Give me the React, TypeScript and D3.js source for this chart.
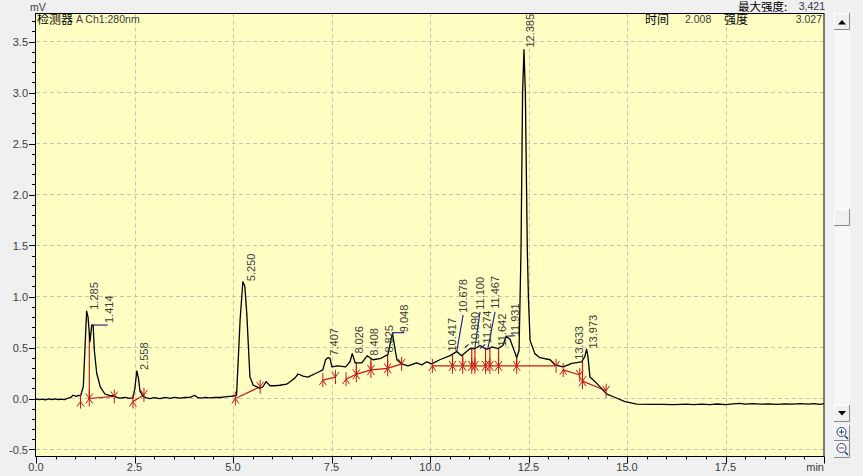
import React from "react";
import * as d3 from "d3";

const xTickValues = [0, 2.5, 5, 7.5, 10, 12.5, 15, 17.5];
const yTickValues = [-0.5, 0, 0.5, 1, 1.5, 2, 2.5, 3, 3.5];

const traceT = [0,.08,.16,.24,.32,.4,.48,.56,.64,.72,.8,.88,.94,1.02,1.08,1.13,1.2,1.244,1.285,1.32,1.37,1.414,1.45,1.48,1.54,1.63,1.75,1.87,1.98,2.05,2.13,2.26,2.36,2.46,2.51,2.558,2.6,2.64,2.72,2.8,2.89,3.0,3.15,3.28,3.4,3.52,3.65,3.78,3.91,4.03,4.11,4.2,4.29,4.42,4.54,4.67,4.8,4.9,4.97,5.09,5.18,5.25,5.3,5.35,5.43,5.515,5.685,5.76,5.84,5.94,6.05,6.19,6.36,6.45,6.57,6.65,6.78,6.9,7.12,7.28,7.35,7.407,7.46,7.51,7.66,7.86,7.97,8.026,8.1,8.27,8.408,8.55,8.73,8.93,9.048,9.11,9.16,9.28,9.44,9.66,9.79,9.92,10.04,10.25,10.51,10.678,10.8,10.93,11.02,11.14,11.27,11.4,11.47,11.57,11.73,11.85,11.931,12.03,12.16,12.2,12.26,12.31,12.35,12.385,12.42,12.47,12.5,12.54,12.66,12.79,13.05,13.17,13.38,13.6,13.85,13.93,13.973,14.01,14.06,14.19,14.48,14.7,14.95,15.25,15.58,15.9,16.2,16.5,16.7,16.9,17.1,17.3,17.5,17.7,17.85,18.0,18.2,18.4,18.6,18.8,19.0,19.2,19.4,19.6,19.75,19.9,20];
const traceV = [-.005,-.012,-.006,-.014,-.004,-.01,-.003,-.012,-.006,-.01,.002,.01,.032,.02,.03,.025,.115,.5,.857,.8,.557,.72,.72,.475,.25,.115,.044,.03,.025,.012,.004,.01,.002,.006,.1,.27,.2,.07,.02,.006,-.002,.008,-.002,.01,.002,.012,.004,.01,.012,.03,.008,.004,.012,.006,.012,.01,.016,.02,.022,.03,.77,1.145,1.1,.83,.21,.13,.1,.115,.165,.125,.125,.13,.14,.165,.2,.24,.22,.21,.25,.28,.38,.4,.395,.31,.32,.31,.36,.44,.35,.35,.42,.38,.39,.43,.64,.49,.38,.34,.32,.35,.33,.36,.34,.38,.42,.46,.42,.46,.49,.49,.52,.49,.485,.505,.49,.52,.61,.58,.445,.4,.47,1.455,3.0,3.42,3.0,1.455,.965,.57,.44,.4,.38,.33,.31,.345,.36,.41,.485,.41,.21,.165,.045,.01,-.03,-.055,-.057,-.058,-.06,-.055,-.06,-.056,-.06,-.054,-.06,-.052,-.048,-.055,-.05,-.056,-.052,-.058,-.052,-.056,-.05,-.056,-.05,-.058,-.05];

const peakNames = ["1.285","1.414","2.558","5.250","7.407","8.026","8.408","8.825","9.048","10.417","10.678","10.890","11.100","11.274","11.467","11.642","11.931","12.385","13.633","13.973"];
const peakLabelT = [1.47,1.85,2.74,5.45,7.56,8.2,8.59,8.96,9.35,10.56,10.84,11.14,11.27,11.46,11.65,11.82,12.16,12.54,13.78,14.14];
const peakLabelV = [.87,.74,.28,1.15,.42,.44,.42,.45,.65,.46,.84,.52,.87,.54,.88,.51,.61,3.44,.38,.49];

const leaderT0 = [1.414,9.048,10.678,10.89,11.14,11.274,11.467,11.931];
const leaderV0 = [.72,.645,.46,.5,.5,.49,.485,.61];
const leaderT1 = [1.82,9.35,10.84,10.98,11.27,11.4,11.65,12.16];
const leaderV1 = [.72,.645,.82,.53,.85,.53,.85,.615];

const eventT = [1.13,1.353,1.987,2.46,2.74,5.06,5.69,7.28,7.6,7.87,8.13,8.5,8.925,9.28,10.06,10.57,10.83,11.06,11.14,11.41,11.52,11.74,12.2,13.2,13.38,13.8,13.87,14.47];
const eventV = [-.03,0,.02,-.03,.035,0,.115,.18,.21,.19,.237,.28,.296,.34,.32,.32,.32,.32,.32,.32,.32,.32,.32,.32,.28,.23,.17,.076];
const eventKind = ["u","x","d","u","d","u","d","u","d","u","x","x","x","d","u","x","x","x","x","x","x","x","x","d","u","d","x","d"];
const baselineFirst = [1,3,5,7,9,14,24,26];
const baselineLast = [2,4,6,8,13,23,25,27];

const W = 863, H = 476;
const x = d3.scaleLinear().domain([0, 20]).range([36, 824]);
const y = d3.scaleLinear().domain([0, 3.5]).range([398.5, 41.5]);
const yTop = y.invert(13.5), yBot = y.invert(456.5);
const traceAt = d3.scaleLinear<number>().domain(traceT).range(traceV);
const tracePath = d3.line<number>().x((_, i) => x(traceT[i])).y(d => y(d)).curve(d3.curveLinear)(traceV) as string;

const UI = "'Liberation Sans', Arial, sans-serif";
const CJK = "'Noto Sans CJK SC', sans-serif";
const RED = "#cc1515";
const TXT = "#3c3c3c";
const GRID = "#c6c6b0";

const markerPath: Record<string, string> = {
  u: "M0,-7V7M-3.5,5L0,0L3.5,5",
  d: "M0,-7V7M-3.5,-5L0,0L3.5,-5",
  x: "M0,-8V8M-3.5,-5L0,0L3.5,-5M-3.5,5L0,0L3.5,5",
};

function Button({ bx, by, w, h }: { bx: number; by: number; w: number; h: number }) {
  return (
    <g>
      <rect x={bx} y={by} width={w} height={h} fill="#f0f0f0" />
      <path d={`M${bx + w - 0.5},${by}V${by + h - 0.5}H${bx}`} fill="none" stroke="#8a8a8a" />
      <path d={`M${bx + 0.5},${by + h - 1}V${by + 0.5}H${bx + w - 1}`} fill="none" stroke="#ffffff" />
    </g>
  );
}

export default function App() {
  const minorX = d3.range(0, 20.01, 0.5);
  const minorY = d3.range(-0.5, 3.75, 0.1);
  return (
    <svg width={W} height={H} viewBox={`0 0 ${W} ${H}`} style={{ position: "absolute", left: 0, top: 0, background: "#f0f0f0" }}>
      <defs>
        <pattern id="dither" width="2" height="2" patternUnits="userSpaceOnUse">
          <rect width="2" height="2" fill="#ffffff" />
          <rect width="1" height="1" fill="#f0f0f0" />
          <rect x="1" y="1" width="1" height="1" fill="#f0f0f0" />
        </pattern>
      </defs>

      <rect x={x(0)} y={y(yTop)} width={x(20) - x(0)} height={y(yBot) - y(yTop)} fill="#ffffc4" />

      {xTickValues.slice(1).map(t => (
        <line key={t} x1={Math.round(x(t)) + 0.5} x2={Math.round(x(t)) + 0.5} y1={y(yTop)} y2={y(yBot)} stroke={GRID} strokeDasharray="4 3" />
      ))}
      {yTickValues.map(v => (
        <line key={v} x1={x(0)} x2={x(20)} y1={y(v)} y2={y(v)} stroke={GRID} strokeDasharray="4 3" />
      ))}

      {baselineFirst.map((a, i) => {
        const pts = d3.range(a, baselineLast[i] + 1).map(k => [x(eventT[k]), y(eventV[k])] as [number, number]);
        return <path key={a} d={d3.line()(pts) as string} fill="none" stroke={RED} strokeWidth={1.2} />;
      })}
      {eventT.map((t, i) => eventKind[i] === "x" ? (
        <line key={t} x1={x(t)} x2={x(t)} y1={y(eventV[i])} y2={y(traceAt(t))} stroke={RED} strokeWidth={1.2} />
      ) : null)}

      <path d={tracePath} fill="none" stroke="#000" strokeWidth={1.3} strokeLinejoin="round" />

      {leaderT0.map((t, i) => (
        <line key={t} x1={x(t)} y1={y(leaderV0[i])} x2={x(leaderT1[i])} y2={y(leaderV1[i])} stroke="#1a1a8c" strokeWidth={1.1} />
      ))}

      {eventT.map((t, i) => (
        <path key={t} transform={`translate(${x(t)},${y(eventV[i])})`} d={markerPath[eventKind[i]]} fill="none" stroke={RED} strokeWidth={1} />
      ))}

      {peakNames.map((name, i) => (
        <text key={name} transform={`translate(${x(peakLabelT[i])},${y(peakLabelV[i])}) rotate(-90)`} fontFamily={UI} fontSize={11} fill={TXT} dy="0.36em">{name}</text>
      ))}

      <rect x={x(0) - 0.5} y={y(yTop)} width={x(20) - x(0) + 0.5} height={y(yBot) - y(yTop)} fill="none" stroke="#000" strokeWidth={1} />

      {minorX.map(t => (
        <line key={t} x1={Math.round(x(t)) + 0.5} x2={Math.round(x(t)) + 0.5} y1={y(yBot)} y2={y(yBot) + (t % 2.5 === 0 ? 7 : 3)} stroke="#000" />
      ))}
      {minorY.map(v => (
        <line key={v} x1={x(0) - 1} x2={x(0) - (Math.abs(v * 2 - Math.round(v * 2)) < 1e-6 ? 7 : 4)} y1={Math.round(y(v)) + 0.5} y2={Math.round(y(v)) + 0.5} stroke="#000" />
      ))}

      {xTickValues.map(t => (
        <text key={t} x={x(t)} y={471} textAnchor="middle" fontFamily={UI} fontSize={11} fill={TXT}>{t.toFixed(1)}</text>
      ))}
      <text x={x(20)} y={471} textAnchor="end" fontFamily={UI} fontSize={11} fill={TXT}>min</text>
      {yTickValues.map(v => (
        <text key={v} x={28} y={y(v) + 4} textAnchor="end" fontFamily={UI} fontSize={11} fill={TXT}>{v.toFixed(1)}</text>
      ))}
      <text x={30} y={11} fontFamily={UI} fontSize={10.5} fill={TXT}>mV</text>

      <text x={37} y={24} fontFamily={CJK} fontSize={12} fill="#000">检测器</text>
      <text x={76} y={23} fontFamily={UI} fontSize={10.5} fill={TXT}>A Ch1:280nm</text>
      <text x={645} y={24} fontFamily={CJK} fontSize={12} fill="#000">时间</text>
      <text x={685} y={23} fontFamily={UI} fontSize={10.5} fill={TXT}>2.008</text>
      <text x={724} y={24} fontFamily={CJK} fontSize={12} fill="#000">强度</text>
      <text x={822} y={23} textAnchor="end" fontFamily={UI} fontSize={10.5} fill={TXT}>3.027</text>
      <text x={738} y={11} fontFamily={CJK} fontSize={11.5} fill="#000">最大强度:</text>
      <text x={825} y={10} textAnchor="end" fontFamily={UI} fontSize={10.5} fill="#3c2f4f">3,421</text>

      <rect x={834} y={13} width={16} height={392} fill="url(#dither)" />
      <Button bx={834} by={13} w={16} h={17} />
      <path d="M838,24.5H846L842,20Z" fill="#000" />
      <Button bx={834} by={209} w={16} h={17} />
      <Button bx={834} by={405} w={16} h={17} />
      <path d="M838,411H846L842,415.5Z" fill="#000" />
      <Button bx={834} by={425} w={16} h={16} />
      <Button bx={834} by={441} w={16} h={17} />
      <circle cx={841.5} cy={432} r={4.5} fill="#fff" stroke="#1f3f7f" />
      <path d="M839,432H844M841.5,429.5V434.5" stroke="#1f3f7f" />
      <path d="M845,436L848,439" stroke="#1f3f7f" strokeWidth={1.6} />
      <circle cx={841.5} cy={448} r={4.5} fill="#fff" stroke="#1f3f7f" />
      <path d="M839,448H844" stroke="#c02020" />
      <path d="M845,452L848,455" stroke="#1f3f7f" strokeWidth={1.6} />
    </svg>
  );
}
